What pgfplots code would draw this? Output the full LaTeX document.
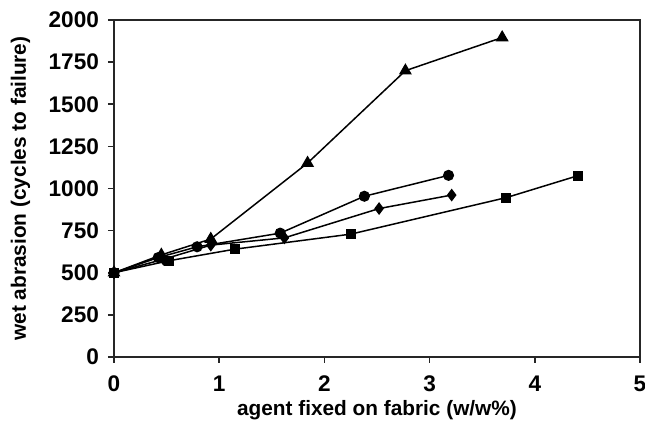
\documentclass[border=0pt]{standalone}
\usepackage{pgfplots}
\pgfplotsset{compat=1.18}
\usepackage{fontspec}
\setmainfont{Liberation Sans}
\begin{document}
\begin{tikzpicture}[x=1pt,y=1pt]
\path[use as bounding box] (-57,-38) rectangle (265.5,178.5);
\begin{axis}[
  at={(0,0)}, anchor=origin,
  scale only axis, width=263pt, height=168.5pt,
  xmin=0, xmax=5, ymin=0, ymax=2000,
  xtick={0,1,2,3,4,5}, ytick={0,250,500,750,1000,1250,1500,1750,2000},
  tick align=outside, xtick pos=bottom, ytick pos=left,
  major tick length=3pt,
  axis line style={line width=0.8pt, black!85},
  tick style={line width=0.8pt, black!85},
  /pgf/number format/assume math mode=true,
  /pgf/number format/1000 sep={},
  ticklabel style={font=\bfseries\fontsize{11.3}{13}\selectfont},
  xticklabel style={yshift=-3pt},
  yticklabel style={xshift=-1pt},
  xlabel={agent fixed on fabric (w/w\%)},
  ylabel={wet abrasion (cycles to failure)},
  label style={font=\bfseries\fontsize{10.4}{12}\selectfont},
  xlabel style={at={(axis description cs:0.5,-0.157)}, anchor=center},
  ylabel style={at={(axis description cs:-0.178,0.5)}, anchor=center, rotate=0},
  every axis plot/.append style={black, line width=0.75pt, mark options={solid, fill=black}},
]
\addplot[mark=triangle*, mark size=3pt] coordinates {(0,500) (0.45,606) (0.92,700) (1.84,1151) (2.77,1699) (3.69,1896)};
\addplot[mark=*, mark size=2.4pt] coordinates {(0,500) (0.42,590) (0.79,654) (1.58,735) (2.38,954) (3.18,1078)};
\addplot[mark=diamond*, mark size=2.6pt] coordinates {(0,500) (0.47,580) (0.92,664) (1.62,707) (2.52,881) (3.21,961)};
\addplot[mark=square*, mark size=2.1pt] coordinates {(0,500) (0.52,571) (1.15,640) (2.25,729) (3.73,946) (4.41,1076)};
\end{axis}
\end{tikzpicture}
\end{document}
